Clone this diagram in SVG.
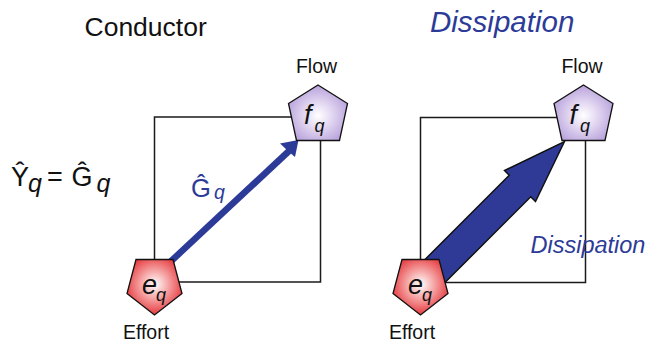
<svg xmlns="http://www.w3.org/2000/svg" width="662" height="344" viewBox="0 0 662 344">
<defs>
<radialGradient id="gRed" cx="0.5" cy="0.45" r="0.6">
<stop offset="0" stop-color="#ffffff"/>
<stop offset="0.35" stop-color="#f7b3b3"/>
<stop offset="1" stop-color="#e3262b"/>
</radialGradient>
<radialGradient id="gPurple" cx="0.5" cy="0.55" r="0.6">
<stop offset="0" stop-color="#ffffff"/>
<stop offset="0.35" stop-color="#e6dcf3"/>
<stop offset="1" stop-color="#b199d8"/>
</radialGradient>
<polygon id="pentDown" points="-18.5,-25 18.5,-25 27.5,9 0,30.5 -27.5,9"/>
<polygon id="pentUp" points="0,-30.5 29.5,-12 21.5,25 -21.5,25 -29.5,-12"/>
</defs>
<style>
.t{font-family:"Liberation Sans",Arial,sans-serif;fill:#111}
.i{font-style:italic}
.b{fill:#2c3b98}
.frame{fill:none;stroke:#1a1a1a;stroke-width:1.5}
.eff{fill:url(#gRed);stroke:#111;stroke-width:1.3}
.flo{fill:url(#gPurple);stroke:#111;stroke-width:1.3}
.lbl{font-size:19.5px;text-anchor:middle}
.sym{font-size:27px;font-style:italic}
.sub{font-size:18px;font-style:italic}
</style>
<rect width="662" height="344" fill="#ffffff"/>

<text class="t" x="84.5" y="36" font-size="26.5">Conductor</text>
<text class="t b i" x="430" y="31.5" font-size="29.5">Dissipation</text>

<g id="formula">
<text class="t" x="11" y="186" font-size="27">Ŷ</text>
<text class="t i" x="28" y="192" font-size="25">q</text>
<text class="t" x="47" y="186" font-size="27">=</text>
<text class="t" x="71.5" y="186" font-size="27">Ĝ</text>
<text class="t i" x="96.5" y="192" font-size="25">q</text>
</g>

<g id="frames">
<rect class="frame" x="154.5" y="117" width="166" height="165"/>
<rect class="frame" x="420.5" y="117.5" width="165" height="165"/>
</g>

<g id="connectors">
<g id="conductance-arrow">
<line x1="168" y1="264" x2="289" y2="151" stroke="#2c3b98" stroke-width="6.5"/>
<polygon points="298.5,140 295,157 288.5,151.5 280,143.5" fill="#2c3b98"/>
<text class="t b" x="191" y="197" font-size="25.5">Ĝ</text>
<text class="t b i" x="214" y="199" font-size="19.5">q</text>
</g>
<g id="dissipation-arrow">
<polygon points="564.5,141.5 535.5,201.5 530.75,196.75 438.75,288.75 417.25,267.25 509.25,175.25 504.5,170.5" fill="#2f3a96" stroke="#111" stroke-width="1.5" stroke-linejoin="miter"/>
<text class="t b i" x="530.5" y="253" font-size="23.5">Dissipation</text>
</g>
</g>

<g id="effort-left">
<use href="#pentDown" x="154.5" y="284.5" class="eff"/>
<text class="t sym" x="142" y="294">e</text>
<text class="t sub" x="156" y="301">q</text>
<text class="t lbl" x="146" y="339">Effort</text>
</g>
<g id="flow-left">
<use href="#pentUp" x="318" y="115.5" class="flo"/>
<text class="t sym" x="304" y="124">f</text>
<text class="t sub" x="314.5" y="132">q</text>
<text class="t lbl" x="316.5" y="73">Flow</text>
</g>
<g id="effort-right">
<use href="#pentDown" x="420.5" y="284.5" class="eff"/>
<text class="t sym" x="408" y="294">e</text>
<text class="t sub" x="422" y="301">q</text>
<text class="t lbl" x="412" y="339">Effort</text>
</g>
<g id="flow-right">
<use href="#pentUp" x="583.5" y="115.5" class="flo"/>
<text class="t sym" x="569.5" y="124">f</text>
<text class="t sub" x="580" y="132">q</text>
<text class="t lbl" x="582" y="73">Flow</text>
</g>
</svg>
